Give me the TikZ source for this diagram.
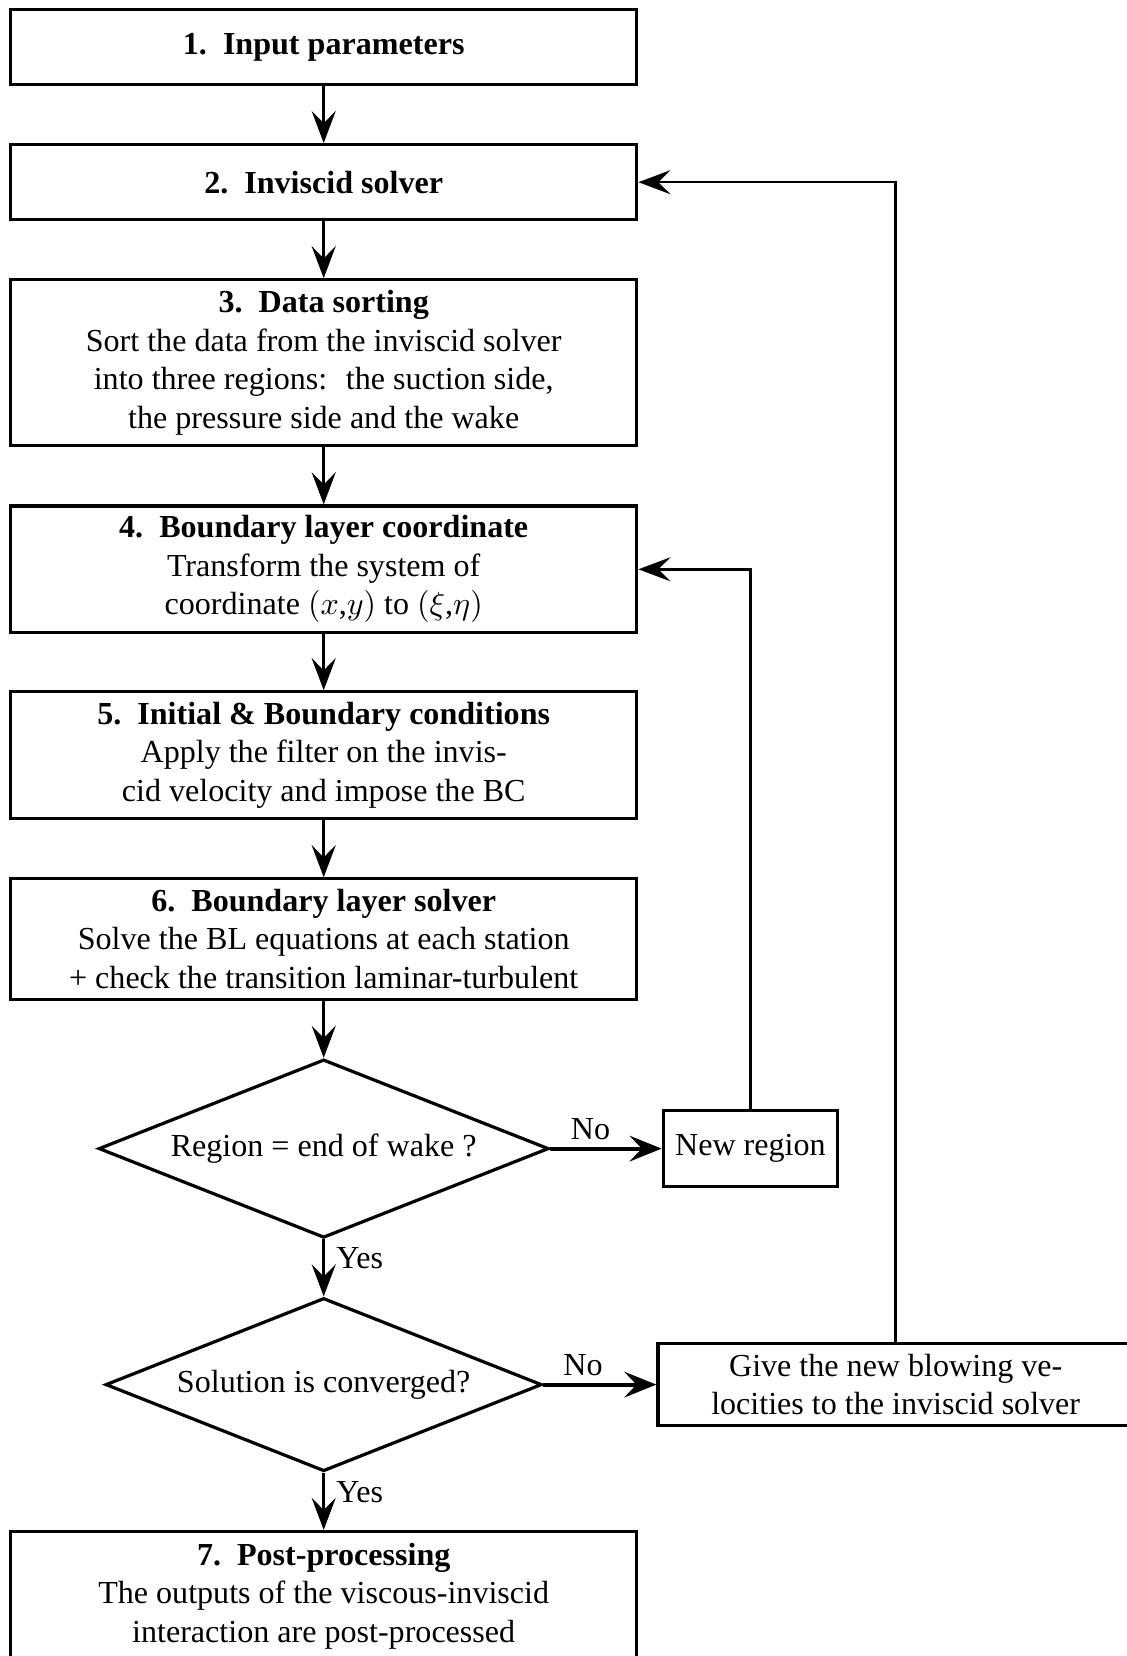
\documentclass[tikz,border=0pt]{standalone}
\usepackage{fontspec}
\setmainfont{Liberation Serif}
\usetikzlibrary{shapes.geometric,arrows.meta}
\begin{document}
\begin{tikzpicture}[x=0.3117pt,y=-0.3117pt,
  box/.style={draw,line width=1pt,rectangle,minimum width=195.2pt,inner sep=0pt,align=center},
  dia/.style={draw,line width=1pt,diamond,inner sep=0pt,align=center},
  small/.style={draw,line width=1pt,rectangle,inner sep=0pt,align=center},
  arr/.style={line width=0.9pt,-{Stealth[length=10pt,width=7.5pt,inset=3.8pt]}},
  noarr/.style={line width=1.2pt,-{Stealth[length=10pt,width=8pt,inset=3.8pt]}},
  back/.style={line width=0.8pt,-{Stealth[length=10pt,width=7.5pt,inset=3.8pt]}},
  lbl/.style={inner sep=2pt}]
\useasboundingbox (0,0) rectangle (1127,1656);
\node[box,minimum height=23.4pt] (b1) at (323.7,47) {\textbf{1.~~Input parameters}};
\node[box,minimum height=23.4pt] (b2) at (323.7,182.2) {\textbf{2.~~Inviscid solver}};
\node[box,minimum height=51.7pt] (b3) at (323.7,362.8) {\textbf{3.~~Data sorting}\\Sort the data from the inviscid solver\\into three regions:~ the suction side,\\the pressure side and the wake};
\node[box,minimum height=39.5pt] (b4) at (323.7,569.3) {\textbf{4.~~Boundary layer coordinate}\\Transform the system of\\coordinate $(x$,$y)$ to $(\xi$,$\eta)$};
\node[box,minimum height=39.5pt] (b5) at (323.7,755.2) {\textbf{5.~~Initial \& Boundary conditions}\\Apply the filter on the invis-\\cid velocity and impose the BC};
\node[box,minimum height=37.5pt] (b6) at (323.7,939) {\textbf{6.~~Boundary layer solver}\\Solve the BL equations at each station\\+ check the transition laminar-turbulent};
\node[dia,minimum width=140.3pt,minimum height=55.6pt,aspect=2.5] (d1) at (323.7,1148.6) {Region = end of wake ?};
\node[small,minimum width=54.3pt,minimum height=23.7pt] (nr) at (750.4,1148.6) {New region};
\node[dia,minimum width=136pt,minimum height=54pt,aspect=2.5] (d2) at (323.7,1384.6) {Solution is converged?};
\node[small,minimum width=148.2pt,minimum height=25.7pt] (gv) at (895.7,1384.6) {Give the new blowing ve-\\locities to the inviscid solver};
\node[box,minimum height=40.2pt] (b7) at (323.7,1596) {\textbf{7.~~Post-processing}\\The outputs of the viscous-inviscid\\interaction are post-processed};
\draw[arr] (b1) -- (b2);
\draw[arr] (b2) -- (b3);
\draw[arr] (b3) -- (b4);
\draw[arr] (b4) -- (b5);
\draw[arr] (b5) -- (b6);
\draw[arr] (b6) -- (d1);
\draw[noarr] (d1.east) -- node[lbl,pos=0.36,above]{No} (nr.west);
\draw[back] (nr.north) |- (b4.east);
\draw[arr] (d1.south) -- node[lbl,pos=0.33,right,inner sep=3.5pt]{Yes} (d2.north);
\draw[noarr] (d2.east) -- node[lbl,pos=0.35,above]{No} (gv.west);
\draw[back] (gv.north) |- (b2.east);
\draw[arr] (d2.south) -- node[lbl,pos=0.33,right,inner sep=3.5pt]{Yes} (b7.north);
\end{tikzpicture}
\end{document}
